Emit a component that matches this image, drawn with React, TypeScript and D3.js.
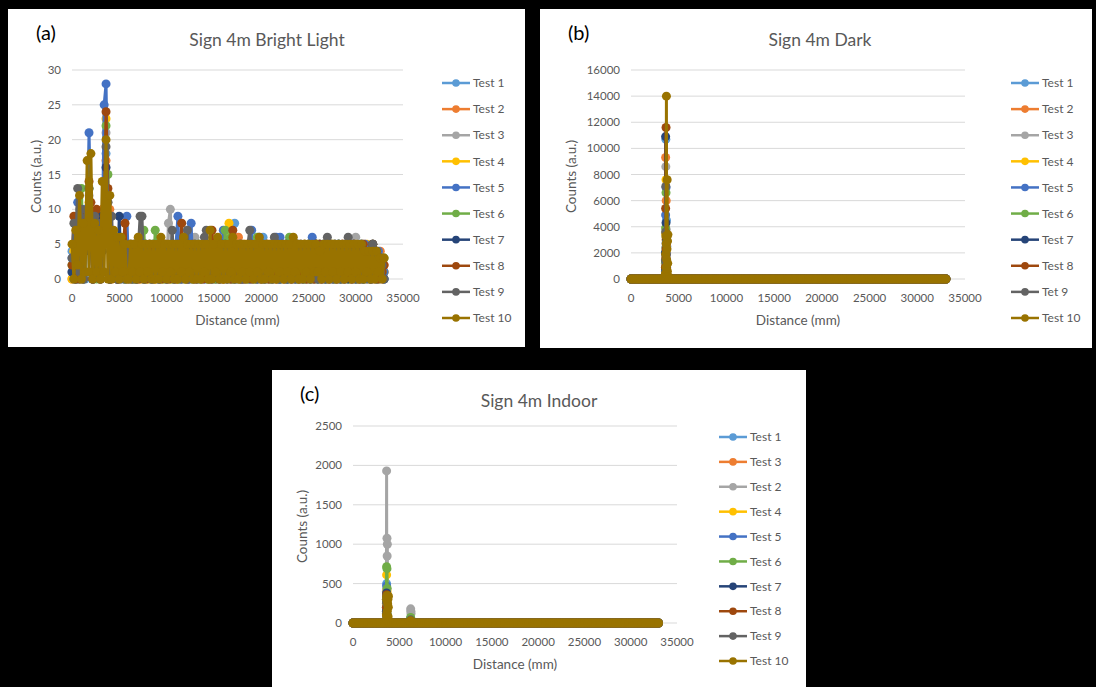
import React from 'react';
import * as d3 from 'd3';

// Excel default palette, series order
const colors = ['#5B9BD5', '#ED7D31', '#A5A5A5', '#FFC000', '#4472C4', '#70AD47', '#264478', '#9E480E', '#636363', '#997300'];

const xTicks = [0, 5000, 10000, 15000, 20000, 25000, 30000, 35000];
const brightTicks = [0, 5, 10, 15, 20, 25, 30];
const darkTicks = [0, 2000, 4000, 6000, 8000, 10000, 12000, 14000, 16000];
const indoorTicks = [0, 500, 1000, 1500, 2000, 2500];

const brightLabels = ['Test 1', 'Test 2', 'Test 3', 'Test 4', 'Test 5', 'Test 6', 'Test 7', 'Test 8', 'Test 9', 'Test 10'];
const darkLabels = ['Test 1', 'Test 2', 'Test 3', 'Test 4', 'Test 5', 'Test 6', 'Test 7', 'Test 8', 'Tet 9', 'Test 10'];
const indoorLabels = ['Test 1', 'Test 3', 'Test 2', 'Test 4', 'Test 5', 'Test 6', 'Test 7', 'Test 8', 'Test 9', 'Test 10'];

// distance bins, 200 mm wide, 0 .. 33000 mm
const BIN_MM = 200;
const LAST_MM = 33000;

// (a) bright light: one base-36 char per bin (a=10 ... s=28), groups of 10 bins
const bright = [
  '4150425069 70415045i9 0414052403 1504150425 0415031405 1405250415 0314052504 1504140325 0415048041 5031405241 0614052503 1405140325 0415031405 2504150314 0514052403 1450413041 403120',
  '041503145a 605140a8h6 a041503140 5140250314 0514031405 2503140514 0315041405 1403150425 0415031460 4150314052 4031504140 5140250314 0514031405 2503140514 0315041405 1403150425 031402',
  '1405a4157c 88514057lb 0415031405 1504140325 0415031405 18a0514031 4051460413 0514031405 2503140514 0315041405 1403150425 0415031405 1504140325 0415031405 2503140514 6031504140 413021',
  '041503146b 70514056n8 0514031405 2503140514 0315041405 1403150425 0415031405 1504140325 0418031405 2503140514 0315041405 1403150425 0415031405 5041403150 4140325041 5031405041 403121',
  '304b190a6l 9051405ps9 0415031409 1405041503 1405250415 0314059041 5048031405 2503140514 7315041405 1403170426 0415031460 6140250314 0514031605 2503140514 0315041405 1403150425 414131',
  '25041d047d 81904158mf 0415031405 1405041570 4150741503 1405250415 0314052504 1504140325 0715604150 4140325061 5031405241 0415064150 3140250314 0514031450 2503140514 0315041405 140213',
  '1504091469 70415947gc 0415090314 0514031405 2503140514 0315041405 1403150425 0415031405 1504140325 0415031405 2503140514 0315041405 1403150425 0415031405 1504140325 0415031405 203120',
  '290519058e b05a6059od 0415031481 4051403150 4140325041 5031405281 4031504140 5140731405 0415073140 5031405241 0415031405 1504140325 0415031405 2503140514 0315041405 1403541405 140312',
  '385d1a089d 80918056jb 0915031405 1405049904 1503140514 0317041405 2703140514 6714031405 1403150425 0415731405 1504140625 0415031405 5403150425 0415061405 2503146514 0315041405 143120',
  '5072c081h1 i08170e1k0 c071606150 0515061505 1505050615 0515050516 0515050505 1507051605 0505160505 1505150516 0505150505 1505150615 0505150515 1405150515 0515051505 1505041404 041303',
];

// (b) and (c): counts are 0 in every bin except the spikes, read at 20 mm steps
const SPIKE_STEP = 20;
const darkSpikeStart = 3610;
const darkSpikes = [
  [600, 2100, 10700, 1400, 2800, 4500, 900, 2500, 300],
  [1200, 9300, 800, 3000, 6000, 1900, 2600, 400],
  [900, 2400, 8600, 1300, 3800, 700, 2000],
  [1500, 3500, 600, 7600, 2200, 1000, 2900],
  [700, 4900, 1800, 7000, 1100, 3300, 500],
  [1300, 3900, 800, 6600, 2400, 3000, 600],
  [2000, 10900, 700, 4300, 1500, 3100, 400],
  [900, 5400, 1600, 11600, 2300, 3200, 800],
  [1400, 3600, 7100, 600, 2700, 1900, 500],
  [400, 1900, 3300, 900, 2700, 14000, 1500, 3200, 2300, 7600, 600, 2900, 1200, 3400, 200],
];

const indoorSpikeStart = 3610;
const indoorSpikes = [
  [200, 500, 150, 320, 80],
  [300, 120, 420, 250, 60],
  [400, 1930, 300, 1075, 850, 1000, 200],
  [250, 610, 150, 400, 90],
  [180, 470, 300, 120],
  [300, 715, 200, 690, 440, 100],
  [150, 380, 260, 80],
  [200, 360, 100, 300],
  [120, 340, 250, 60],
  [100, 330, 50, 280, 150, 350, 20, 240, 300, 80, 200, 340, 10],
];
const indoorSecondStart = 6210;
const indoorSecond = [
  [20, 40, 10],
  [15, 30],
  [60, 180, 150, 120, 40],
  [20, 35],
  [25, 45],
  [30, 70, 20],
  [15, 25],
  [20, 30],
  [25, 40],
  [10, 30, 5],
];

type Pt = [number, number];

const bins: number[] = [];
for (let d = 0; d <= LAST_MM; d += BIN_MM) bins.push(d);

const fromString = (s: string): Pt[] =>
  s.replace(/ /g, '').split('').map((c, i) => [i * BIN_MM, parseInt(c, 36)] as Pt);

const withSpikes = (groups: { start: number; counts: number[] }[]): Pt[] => {
  const pts: Pt[] = bins.map((d) => [d, 0] as Pt);
  groups.forEach((g) => g.counts.forEach((c, k) => pts.push([g.start + k * SPIKE_STEP, c])));
  return pts.sort((a, b) => a[0] - b[0]);
};

const brightSeries = bright.map(fromString);
const darkSeries = darkSpikes.map((c) => withSpikes([{ start: darkSpikeStart, counts: c }]));
const indoorSeries = indoorSpikes.map((c, i) =>
  withSpikes([
    { start: indoorSpikeStart, counts: c },
    { start: indoorSecondStart, counts: indoorSecond[i] },
  ])
);

const FONT = 'Lato, "Open Sans", sans-serif';
const GREY = '#595959';

type PanelProps = {
  tag: string;
  title: string;
  titleX: number;
  box: [number, number, number, number];
  xr: [number, number];
  yr: [number, number];
  yTitleGap: number;
  yTicks: number[];
  labels: string[];
  legendX: number;
  legendY: [number, number];
  series: Pt[][];
};

const Panel = ({ tag, title, titleX, box, xr, yr, yTitleGap, yTicks, labels, legendX, legendY, series }: PanelProps) => {
  const x = d3.scaleLinear().domain([0, 35000]).range(xr);
  const y = d3.scaleLinear().domain([0, yTicks[yTicks.length - 1]]).range(yr);
  const line = d3.line<Pt>().x((d) => x(d[0])).y((d) => y(d[1]));
  const ly = d3.scaleLinear().domain([0, labels.length - 1]).range(legendY);
  const [bx, by, bw, bh] = box;
  const plotMid = (xr[0] + xr[1]) / 2;
  const yMid = (yr[0] + yr[1]) / 2 + 2;

  return (
    <g fontFamily={FONT}>
      <rect x={bx} y={by} width={bw} height={bh} fill="#fff" />
      <text x={bx + 28} y={by + 31} fontSize={20} fill="#000">{tag}</text>
      <text x={titleX} y={by + 37} fontSize={17.5} fill={GREY} textAnchor="middle">{title}</text>

      {yTicks.map((t) => (
        <g key={t}>
          <line x1={xr[0]} x2={xr[1]} y1={y(t)} y2={y(t)} stroke="#d9d9d9" strokeWidth={1} />
          <text x={xr[0] - 11} y={y(t)} dy="0.35em" fontSize={11.5} fill={GREY} textAnchor="end">{t}</text>
        </g>
      ))}
      {xTicks.map((t) => (
        <text key={t} x={x(t)} y={yr[0] + 23} fontSize={11.5} fill={GREY} textAnchor="middle">{t}</text>
      ))}
      <text x={plotMid} y={yr[0] + 46} fontSize={13.5} fill={GREY} textAnchor="middle">Distance (mm)</text>
      <text
        transform={`translate(${xr[0] - yTitleGap},${yMid}) rotate(-90)`}
        dy="0.35em"
        fontSize={13.5}
        fill={GREY}
        textAnchor="middle"
      >
        Counts (a.u.)
      </text>

      {series.map((s, i) => (
        <g key={i}>
          <path d={line(s) ?? ''} fill="none" stroke={colors[i]} strokeWidth={3} strokeLinejoin="round" />
          {s.map((d, k) => (
            <circle key={k} cx={x(d[0])} cy={y(d[1])} r={4.5} fill={colors[i]} />
          ))}
        </g>
      ))}

      {labels.map((l, i) => (
        <g key={l + i}>
          <line x1={legendX} x2={legendX + 28} y1={ly(i)} y2={ly(i)} stroke={colors[i]} strokeWidth={2.5} />
          <circle cx={legendX + 14} cy={ly(i)} r={3.8} fill={colors[i]} />
          <text x={legendX + 31} y={ly(i)} dy="0.35em" fontSize={12} fill={GREY}>{l}</text>
        </g>
      ))}
    </g>
  );
};

export default function App() {
  return (
    <svg width={1096} height={687} style={{ position: 'absolute', left: 0, top: 0 }}>
      <rect width={1096} height={687} fill="#000" />
      <Panel
        tag="(a)"
        title="Sign 4m Bright Light"
        titleX={267}
        box={[8, 9, 517, 338]}
        xr={[72, 403]}
        yr={[279, 70]}
        yTitleGap={36}
        yTicks={brightTicks}
        labels={brightLabels}
        legendX={442}
        legendY={[83, 318]}
        series={brightSeries}
      />
      <Panel
        tag="(b)"
        title="Sign 4m Dark"
        titleX={820}
        box={[540, 9, 552, 339]}
        xr={[631, 965]}
        yr={[279, 70]}
        yTitleGap={60}
        yTicks={darkTicks}
        labels={darkLabels}
        legendX={1011}
        legendY={[83, 318]}
        series={darkSeries}
      />
      <Panel
        tag="(c)"
        title="Sign 4m Indoor"
        titleX={539}
        box={[272, 370, 534, 317]}
        xr={[353, 677]}
        yr={[623, 426]}
        yTitleGap={51}
        yTicks={indoorTicks}
        labels={indoorLabels}
        legendX={719}
        legendY={[437, 661]}
        series={indoorSeries}
      />
    </svg>
  );
}
